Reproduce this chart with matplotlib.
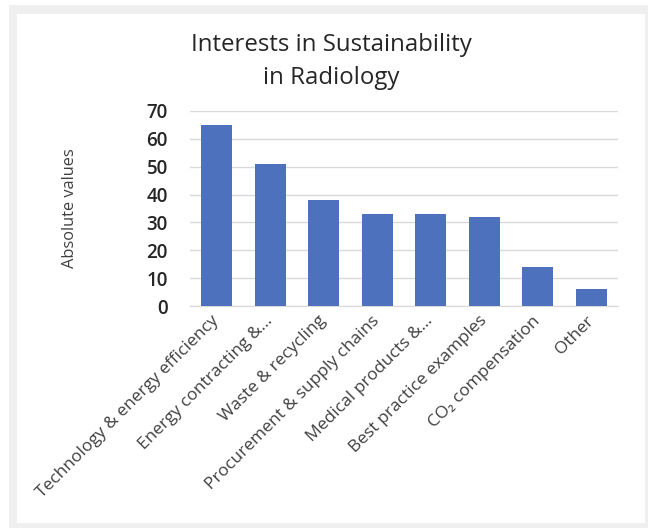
import matplotlib
matplotlib.use("Agg")
import matplotlib.pyplot as plt
from matplotlib.patches import Rectangle

categories = [
    "Technology & energy efficiency",
    "Energy contracting &...",
    "Waste & recycling",
    "Procurement & supply chains",
    "Medical products &...",
    "Best practice examples",
    "CO\u2082 compensation",
    "Other",
]
values = [65, 51, 38, 33, 33, 32, 14, 6]
y_ticks = [0, 10, 20, 30, 40, 50, 60, 70]

plt.rcParams["font.family"] = ["Open Sans", "DejaVu Sans"]

W, H = 648, 528
fig = plt.figure(figsize=(W / 100, H / 100), dpi=100)
fig.patch.set_facecolor("white")

# light grey frame around the chart panel
fig.patches.append(Rectangle((9 / W, 0), (W - 9) / W, (H - 5) / H,
                             transform=fig.transFigure, facecolor="#efefef",
                             edgecolor="none", zorder=-10))
fig.patches.append(Rectangle((17 / W, (H - 523) / H), (645 - 17) / W, (523 - 14) / H,
                             transform=fig.transFigure, facecolor="white",
                             edgecolor="none", zorder=-9))

ax = fig.add_axes([190 / W, (H - 306) / H, 428 / W, 195 / H])
ax.set_facecolor("none")

x = list(range(len(categories)))
ax.bar(x, values, width=0.58, color="#4e71be", zorder=3)

ax.set_xlim(-0.5, len(categories) - 0.5)
ax.set_ylim(0, 70)
ax.set_yticks(y_ticks)
ax.set_yticklabels([str(t) for t in y_ticks], fontsize=13.5, color="#262626",
                   fontweight="semibold")
ax.yaxis.grid(True, color="#d9d9d9", linewidth=1, zorder=0)
ax.set_axisbelow(True)
ax.tick_params(axis="y", length=0, pad=16)
ax.tick_params(axis="x", length=0, pad=9)
for s in ["top", "right", "left"]:
    ax.spines[s].set_visible(False)
ax.spines["bottom"].set_color("#d9d9d9")

ax.set_xticks(x)
ax.set_xticklabels(categories, rotation=45, ha="right", va="center",
                   rotation_mode="anchor", fontsize=12.5, color="#404040")

fig.text(70 / W, 1 - 208 / H, "Absolute values", rotation=90, ha="center",
         va="center", fontsize=11.8, color="#404040")

fig.text(331 / W, 1 - 45 / H, "Interests in Sustainability", ha="center",
         va="center", fontsize=17.3, color="#262626")
fig.text(331 / W, 1 - 78 / H, "in Radiology", ha="center", va="center",
         fontsize=17.3, color="#262626")

fig.savefig("out.png", dpi=100, facecolor="white")
